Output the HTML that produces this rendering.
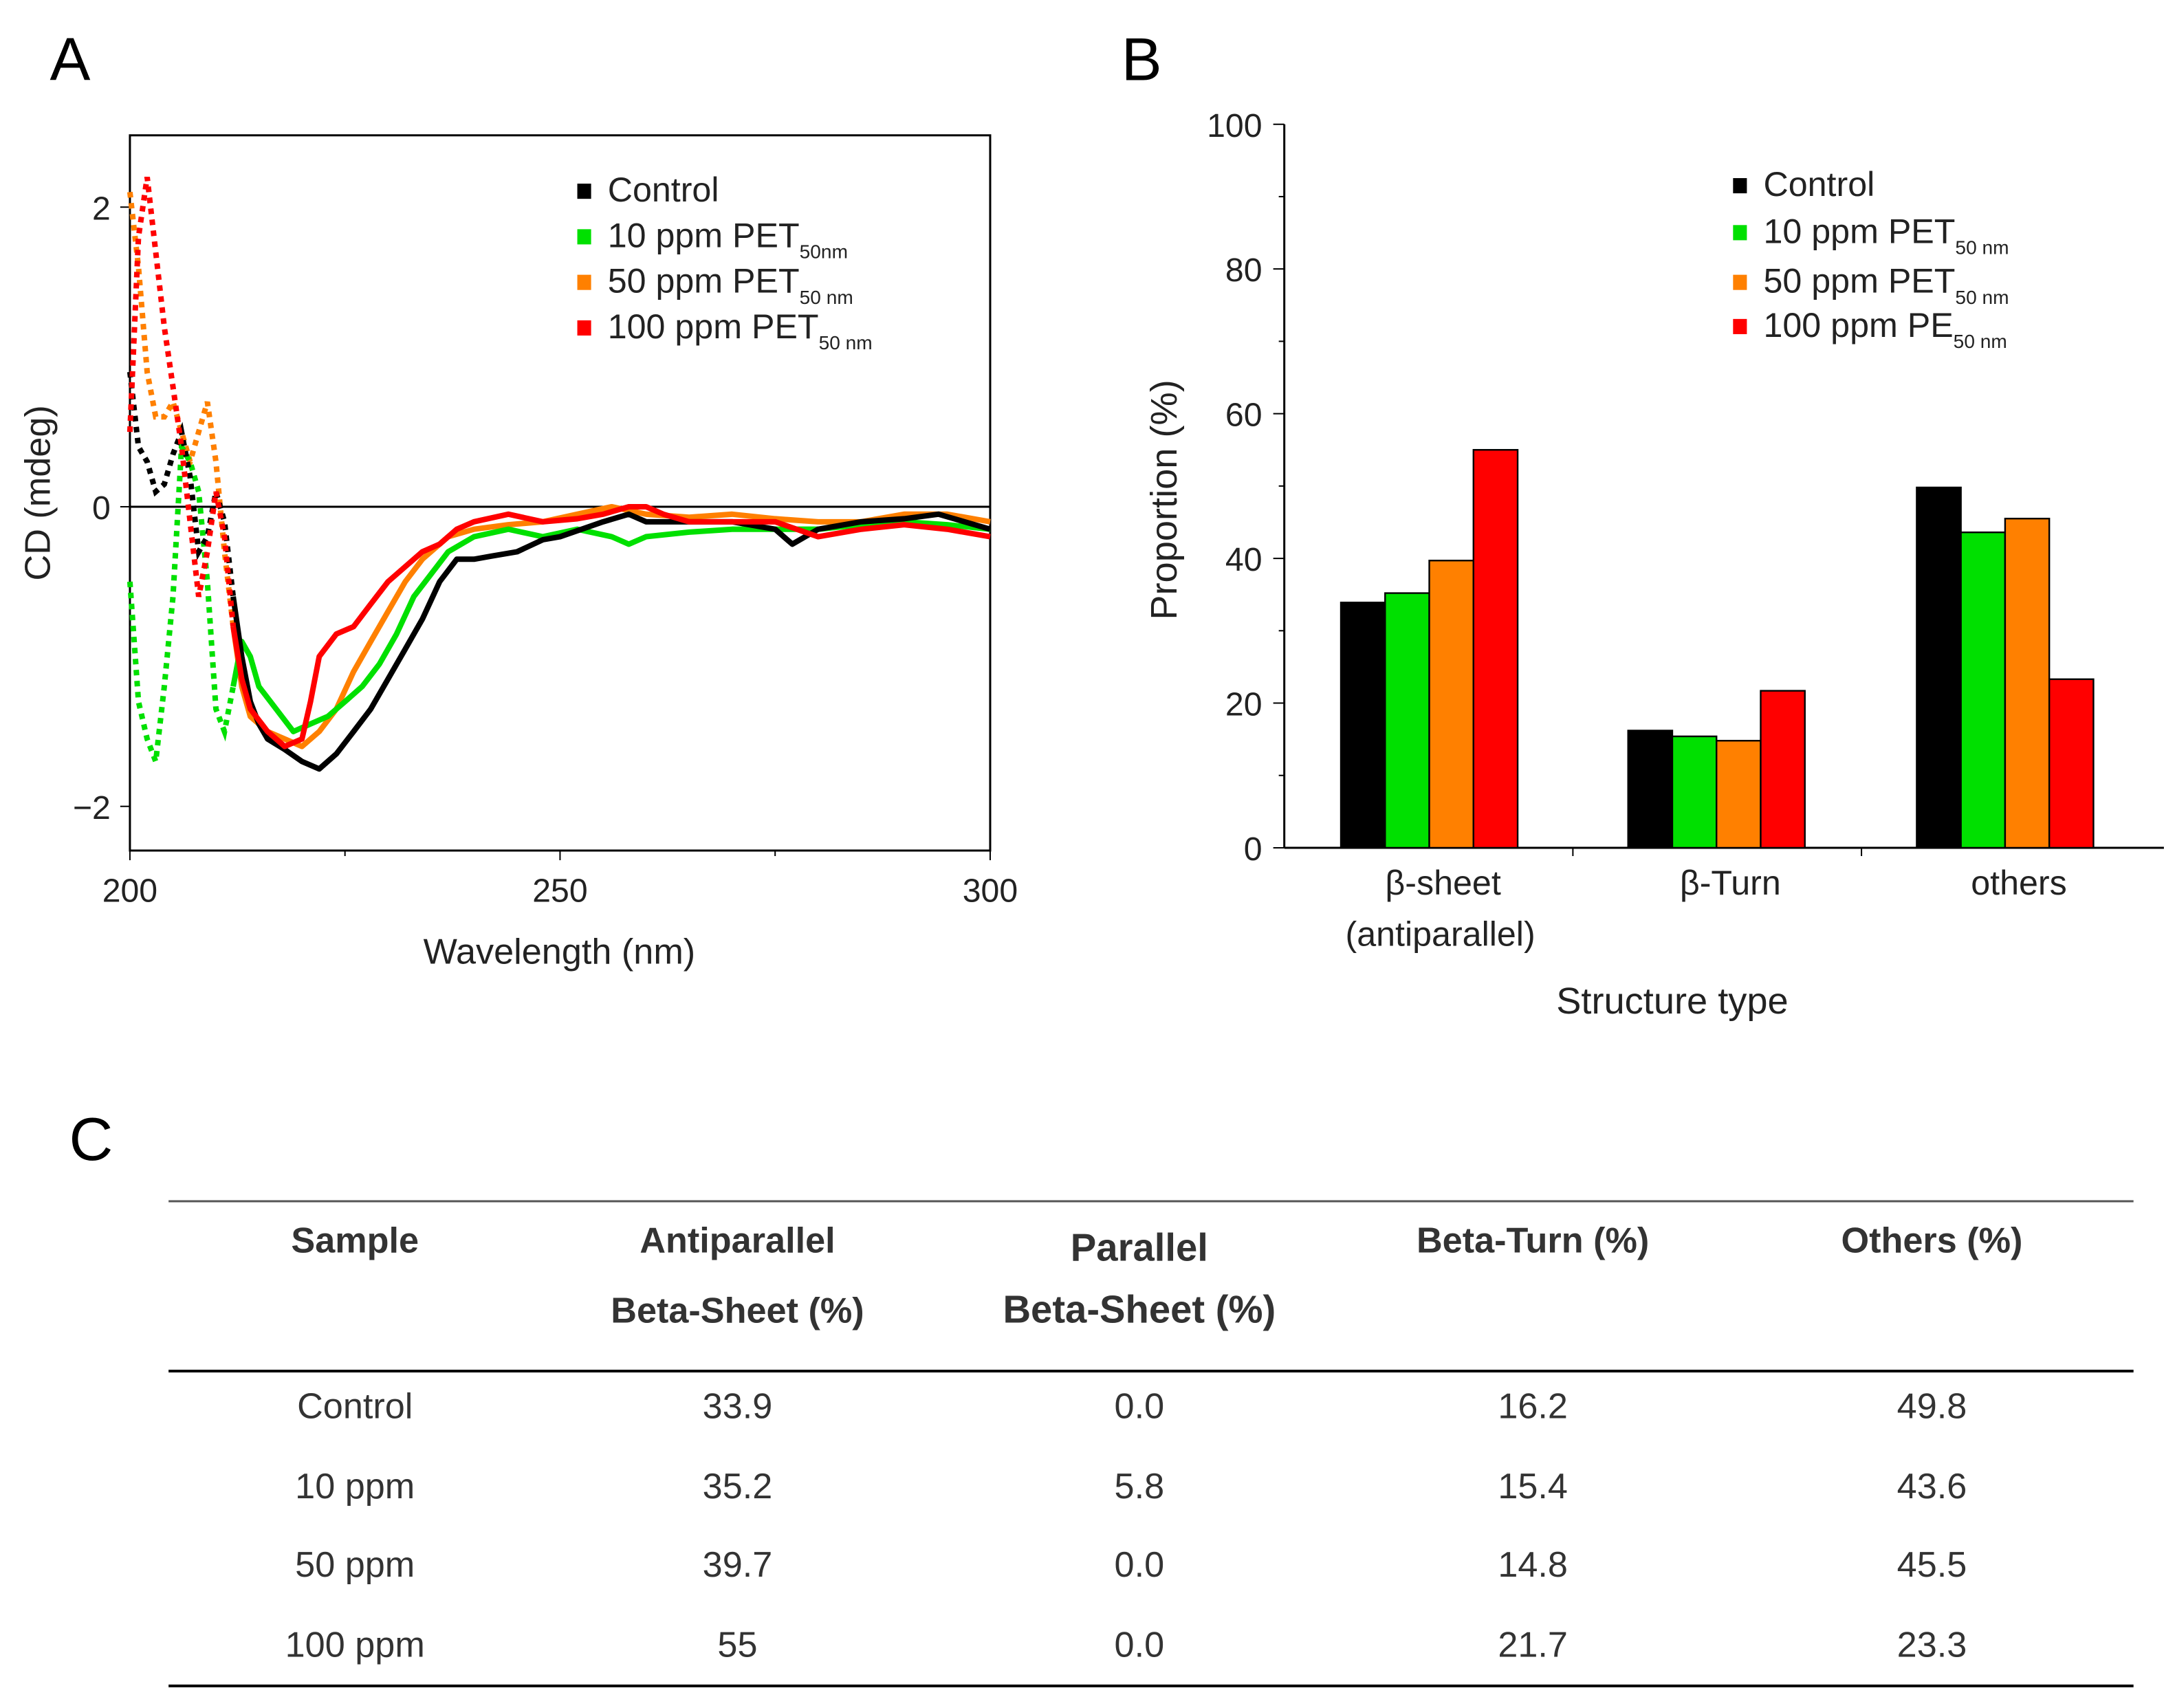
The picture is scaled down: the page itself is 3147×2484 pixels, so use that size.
<!DOCTYPE html>
<html><head><meta charset="utf-8"><style>
html,body{margin:0;padding:0;background:#fff;}
svg{display:block;font-family:"Liberation Sans",Arial,sans-serif;}
</style></head><body>
<svg id="fig" width="3147" height="2484" viewBox="0 0 1567 1237" xmlns="http://www.w3.org/2000/svg">
<rect width="1567" height="1237" fill="#fff"/>
<text x="36" y="58" font-size="44">A</text>
<text x="812" y="58" font-size="44">B</text>
<text x="50" y="840" font-size="44">C</text>
<g id="pa"></g>
<g id="pb"></g>
<g id="pc"></g>
</svg>
<script>
const wlControl=[200,201,202,203,204,205,206,207,208,209,210,211,212,213,214,215,216,218,220,222,224,226,228,230,232,234,236,238,240,242,245,248,250,255,258,260,265,270,275,277,280,285,290,294,300];
const cdControl=[0.9,0.4,0.3,0.1,0.15,0.35,0.5,0.2,-0.3,-0.2,0.1,-0.1,-0.6,-1.0,-1.3,-1.45,-1.55,-1.62,-1.7,-1.75,-1.65,-1.5,-1.35,-1.15,-0.95,-0.75,-0.5,-0.35,-0.35,-0.33,-0.3,-0.22,-0.2,-0.1,-0.05,-0.1,-0.1,-0.1,-0.15,-0.25,-0.15,-0.1,-0.08,-0.05,-0.15];
const wl10=[200,201,202,203,204,205,206,207,208,209,210,211,212,213,214,215,217,219,221,223,225,227,229,231,233,235,237,240,244,248,252,256,258,260,265,270,275,280,285,290,295,300];
const cd10=[-0.5,-1.3,-1.55,-1.7,-1.2,-0.6,0.4,0.3,0.1,-0.5,-1.35,-1.5,-1.2,-0.9,-1.0,-1.2,-1.35,-1.5,-1.45,-1.4,-1.3,-1.2,-1.05,-0.85,-0.6,-0.45,-0.3,-0.2,-0.15,-0.2,-0.15,-0.2,-0.25,-0.2,-0.17,-0.15,-0.15,-0.15,-0.12,-0.1,-0.12,-0.15];
const wl50=[200,201,202,203,204,205,206,207,208,209,210,211,212,213,214,216,218,220,222,224,226,228,230,232,234,237,240,244,248,252,256,260,265,270,275,280,285,290,295,300];
const cd50=[2.1,1.6,0.9,0.6,0.6,0.7,0.5,0.3,0.5,0.7,0.3,-0.3,-0.8,-1.2,-1.4,-1.5,-1.55,-1.6,-1.5,-1.35,-1.1,-0.9,-0.7,-0.5,-0.35,-0.2,-0.15,-0.12,-0.1,-0.05,0.0,-0.05,-0.07,-0.05,-0.08,-0.1,-0.1,-0.05,-0.05,-0.1];
const wl100=[200,201,202,203,204,205,206,207,208,209,210,211,212,213,214,216,218,220,221,222,224,226,228,230,232,234,236,238,240,244,248,252,255,258,260,262,265,270,275,280,285,290,295,300];
const cd100=[0.5,1.8,2.2,1.7,1.2,0.8,0.4,-0.1,-0.6,-0.3,0.1,-0.2,-0.8,-1.15,-1.35,-1.5,-1.6,-1.55,-1.3,-1.0,-0.85,-0.8,-0.65,-0.5,-0.4,-0.3,-0.25,-0.15,-0.1,-0.05,-0.1,-0.08,-0.05,0.0,0.0,-0.05,-0.1,-0.1,-0.1,-0.2,-0.15,-0.12,-0.15,-0.2];
const xTicksA=[200,250,300];
const yTicksA=[2,0,-2];
const barCats=["β-sheet","β-Turn","others"];
const barCtrl=[33.9,16.2,49.8];
const bar10=[35.2,15.4,43.6];
const bar50=[39.7,14.8,45.5];
const bar100=[55,21.7,23.3];
const yTicksB=[0,20,40,60,80,100];
const tblHead=["Sample","Antiparallel Beta-Sheet (%)","Parallel Beta-Sheet (%)","Beta-Turn (%)","Others (%)"];
const tblSamples=["Control","10 ppm","50 ppm","100 ppm"];
const tblAnti=["33.9","35.2","39.7","55"];
const tblPar=["0.0","5.8","0.0","0.0"];
const tblTurn=["16.2","15.4","14.8","21.7"];
const tblOther=["49.8","43.6","45.5","23.3"];

const NS="http://www.w3.org/2000/svg";
function mk(p,t,a,txt){const e=document.createElementNS(NS,t);for(const k in a)e.setAttribute(k,a[k]);if(txt!==undefined)e.textContent=txt;p.appendChild(e);return e;}

// Panel A
const pa=document.getElementById('pa');
const ax=v=>94+(v-200)*6.23, ay=v=>367-v*108.5;
let e=mk(pa,'rect',{x:94,y:98,width:623,height:518,fill:'none',stroke:'#000','stroke-width':1.5});

e=mk(pa,'line',{x1:94,x2:717,y1:ay(0),y2:ay(0),stroke:'#000','stroke-width':1.5});

xTicksA.forEach(t=>{mk(pa,'line',{x1:ax(t),x2:ax(t),y1:616,y2:623,stroke:'#000'});
 e=mk(pa,'text',{x:ax(t),y:653,'font-size':24,'text-anchor':'middle',fill:'#222'},String(t));
 });
[225,275].forEach(t=>mk(pa,'line',{x1:ax(t),x2:ax(t),y1:616,y2:620,stroke:'#000'}));
yTicksA.forEach(t=>{mk(pa,'line',{x1:87,x2:94,y1:ay(t),y2:ay(t),stroke:'#000'});
 e=mk(pa,'text',{x:80,y:ay(t)+9,'font-size':24,'text-anchor':'end',fill:'#222'},t<0?'−'+(-t):String(t));
 });
e=mk(pa,'text',{x:405,y:698,'font-size':26,'text-anchor':'middle',fill:'#222'},'Wavelength (nm)');

e=mk(pa,'text',{x:36,y:357,'font-size':26,'text-anchor':'middle',fill:'#222',transform:'rotate(-90 36 357)'},'CD (mdeg)');

function series(xs,ys,col,name){
 const pre=[],post=[];
 xs.forEach((x,i)=>{const pt=ax(x).toFixed(1)+','+ay(ys[i]).toFixed(1);if(x<=212)pre.push(pt);if(x>=212)post.push(pt);});
 let a=mk(pa,'polyline',{points:pre.join(' '),fill:'none',stroke:col,'stroke-width':4,'stroke-dasharray':'4 4'});
 
 let b=mk(pa,'polyline',{points:post.join(' '),fill:'none',stroke:col,'stroke-width':4,'stroke-linejoin':'round'});
 
}
series(wl50,cd50,'#ff8000','series-50ppm');
series(wl10,cd10,'#00e000','series-10ppm');
series(wlControl,cdControl,'#000','series-control');
series(wl100,cd100,'#ff0000','series-100ppm');
function legend(p,x,y,col,main,sub,nm){
 let g=mk(p,'g',{});
 mk(g,'rect',{x:x,y:y-13,width:10,height:11,fill:col});
 const t=mk(g,'text',{x:x+22,y:y,'font-size':25,fill:'#222'},main);
 if(sub){const s=document.createElementNS(NS,'tspan');s.setAttribute('font-size',14);s.setAttribute('dy',8);s.textContent=sub;t.appendChild(s);}
}
legend(pa,418,146,'#000','Control','','legend-control');
legend(pa,418,179,'#00e000','10 ppm PET','50nm','legend-10ppm');
legend(pa,418,212,'#ff8000','50 ppm PET','50 nm','legend-50ppm');
legend(pa,418,245,'#ff0000','100 ppm PET','50 nm','legend-100ppm');

// Panel B
const pb=document.getElementById('pb');
const by=v=>614-v*5.24;
e=mk(pb,'line',{x1:930,x2:930,y1:90,y2:614,stroke:'#000','stroke-width':1.5});

e=mk(pb,'line',{x1:930,x2:1567,y1:614,y2:614,stroke:'#000','stroke-width':1.5});

yTicksB.forEach(t=>{mk(pb,'line',{x1:922,x2:930,y1:by(t),y2:by(t),stroke:'#000'});
 e=mk(pb,'text',{x:914,y:by(t)+9,'font-size':24,'text-anchor':'end',fill:'#222'},String(t));
 });
[10,30,50,70,90].forEach(t=>mk(pb,'line',{x1:926,x2:930,y1:by(t),y2:by(t),stroke:'#000'}));
const gc=[1035,1243,1452];
[1139,1348].forEach(x=>mk(pb,'line',{x1:x,x2:x,y1:614,y2:620,stroke:'#000'}));
const sets=[[barCtrl,'#000','control'],[bar10,'#00e000','10ppm'],[bar50,'#ff8000','50ppm'],[bar100,'#ff0000','100ppm']];
barCats.forEach((c,i)=>{sets.forEach((s,j)=>{const x=gc[i]-64+j*32;
 e=mk(pb,'rect',{x:x,y:by(s[0][i]),width:32,height:614-by(s[0][i]),fill:s[1],stroke:'#000','stroke-width':1.2});
 });
 e=mk(pb,'text',{x:gc[i]+10,y:648,'font-size':25,'text-anchor':'middle',fill:'#222'},c);
 });
e=mk(pb,'text',{x:1043,y:685,'font-size':25,'text-anchor':'middle',fill:'#222'},'(antiparallel)');

e=mk(pb,'text',{x:1211,y:734,'font-size':27,'text-anchor':'middle',fill:'#222'},'Structure type');

e=mk(pb,'text',{x:852,y:362,'font-size':27,'text-anchor':'middle',fill:'#222',transform:'rotate(-90 852 362)'},'Proportion (%)');

legend(pb,1255,142,'#000','Control','','legend-b-control');
legend(pb,1255,176,'#00e000','10 ppm PET','50 nm','legend-b-10ppm');
legend(pb,1255,212,'#ff8000','50 ppm PET','50 nm','legend-b-50ppm');
legend(pb,1255,244,'#ff0000','100 ppm PE','50 nm','legend-b-100ppm');

// Panel C table
const pc=document.getElementById('pc');
[[870,1.5,'#555'],[993,2,'#000'],[1221,2,'#000']].forEach(r=>{e=mk(pc,'line',{x1:122,x2:1545,y1:r[0],y2:r[0],stroke:r[2],'stroke-width':r[1]});
 });
const cx=[257,534,825,1110,1399];
function tx(x,y,s,fs,w,nm){e=mk(pc,'text',{x:x,y:y,'font-size':fs,'text-anchor':'middle',fill:'#333','font-weight':w},s);}
tx(cx[0],907,'Sample',26,'bold','header-sample');
tx(cx[1],907,'Antiparallel',26,'bold','header-antiparallel');
tx(cx[1],958,'Beta-Sheet (%)',26,'bold','header-antiparallel-2');
tx(cx[2],913,'Parallel',28,'bold','header-parallel');
tx(cx[2],958,'Beta-Sheet (%)',28,'bold','header-parallel-2');
tx(cx[3],907,'Beta-Turn (%)',26,'bold','header-beta-turn');
tx(cx[4],907,'Others (%)',26,'bold','header-others');
const rowsY=[1027,1085,1142,1200];
tblSamples.forEach((s,i)=>{const y=rowsY[i];
 tx(cx[0],y,s,26,'normal','cell-sample');tx(cx[1],y,tblAnti[i],26,'normal','cell-antiparallel');
 tx(cx[2],y,tblPar[i],26,'normal','cell-parallel');tx(cx[3],y,tblTurn[i],26,'normal','cell-beta-turn');
 tx(cx[4],y,tblOther[i],26,'normal','cell-others');});
</script>
</body></html>
